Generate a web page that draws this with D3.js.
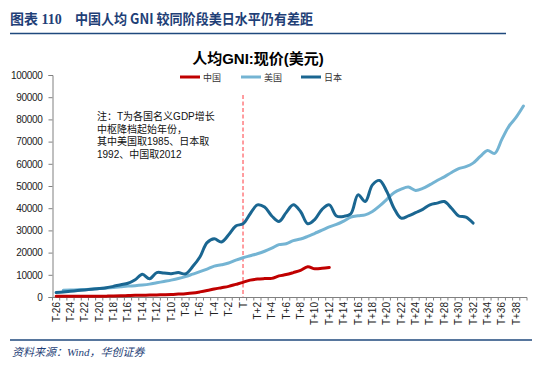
<!DOCTYPE html>
<html><head><meta charset="utf-8">
<script src="https://cdn.jsdelivr.net/npm/d3@7"></script>
<style>
body{margin:0;background:#fff;}
svg{display:block;}
</style></head>
<body>
<svg id="c" width="550" height="367"></svg>
<script>
// categories T-26 ... T+39
const categories = [];
for (let k = -26; k <= 39; k++) categories.push(k === 0 ? "T" : (k < 0 ? "T" + k : "T+" + k));
const yTicks = [0,10000,20000,30000,40000,50000,60000,70000,80000,90000,100000];

const seriesNames = ["中国","美国","日本"];
const china = [300,320,330,350,340,330,360,390,470,540,660,750,800,860,930,1000,1100,1300,1500,1800,2300,2900,3600,4200,4800,5700,6600,7600,8100,8300,8400,9500,10100,11000,12000,13600,12700,12900,13300];
const usa = [null,3000,3100,3300,3400,3600,3800,4100,4300,4600,4900,5100,5400,5800,6400,7000,7600,8300,9200,10300,11400,12600,13900,14500,15300,16600,17700,18600,19500,20600,22000,23600,24000,25400,26100,27300,28700,30100,31600,32700,34200,36000,36600,37000,38500,41000,44000,47000,48600,49500,48000,48900,50600,52500,54100,56100,57800,58700,60300,63300,66000,64700,71000,77000,81000,86000];
const japan = [2000,2300,2600,2900,3200,3500,3800,4200,4800,5500,6200,7800,10200,8200,11000,10800,10500,11000,10400,13700,18000,24500,26200,24800,28000,32000,33000,37500,41500,40500,36500,34000,38000,41500,38500,33000,35000,39500,41500,36500,36300,37500,46000,43000,50500,52500,47500,40000,35500,36500,38000,39500,41500,42300,43000,40000,36500,36000,33300];
const colors = ["#C00000","#74B4D3","#1A6691"];
const noteLines = ["注：T为各国名义GDP增长","中枢降档起始年份，","其中美国取1985、日本取","1992、中国取2012"];
const markCategory = "T";

const svg = d3.select("#c");
const cjk = "'Liberation Sans','Noto Sans CJK SC',sans-serif";

// header
svg.append("text").attr("x",10).attr("y",24).attr("fill","#1F3F77")
  .attr("font-family","'Liberation Serif','Noto Sans CJK SC',serif").attr("font-weight","bold").attr("font-size",14)
  .text("图表 110");
svg.append("text").attr("x",75).attr("y",24).attr("fill","#1F3F77")
  .attr("font-family","'Noto Sans CJK SC',sans-serif").attr("font-weight","bold").attr("font-size",14)
  .attr("textLength",238).attr("lengthAdjust","spacingAndGlyphs")
  .text("中国人均 GNI 较同阶段美日水平仍有差距");
svg.append("line").attr("x1",10).attr("x2",506).attr("y1",33.5).attr("y2",33.5).attr("stroke","#1F497D").attr("stroke-width",1.5);

// chart title
svg.append("text").attr("x",258).attr("y",64).attr("text-anchor","middle").attr("font-family",cjk)
  .attr("font-weight","bold").attr("font-size",15).attr("fill","#000").text("人均GNI:现价(美元)");

const x = d3.scaleBand().domain(categories).range([52.5,527]).padding(0);
const bw = x.bandwidth();
const cx = c => x(c) + bw/2;
const y = d3.scaleLinear().domain([0,100000]).range([297,75]);

// y axis
const ya = svg.append("g").attr("transform","translate(52.5,0)")
  .call(d3.axisLeft(y).tickValues(yTicks).tickSize(4).tickPadding(6).tickFormat(d=>String(d)));
ya.select(".domain").attr("stroke","#808080");
ya.selectAll(".tick line").attr("stroke","#808080");
ya.selectAll("text").attr("font-family","'Liberation Sans',Arial,sans-serif").attr("font-size",10).attr("fill","#222").attr("letter-spacing","-0.3");

// x axis
const xa = svg.append("g");
xa.append("line").attr("x1",x.range()[0]).attr("x2",x.range()[1]).attr("y1",297.5).attr("y2",297.5).attr("stroke","#808080");
const bounds = categories.map(c=>x(c)).concat([x.range()[1]]);
xa.selectAll("line.tk").data(bounds).enter().append("line").attr("class","tk")
  .attr("x1",d=>d).attr("x2",d=>d).attr("y1",297.5).attr("y2",300.5).attr("stroke","#808080");
xa.selectAll("text").data(categories.filter((c,i)=>i%2===0)).enter().append("text")
  .attr("transform",c=>`translate(${cx(c)+3.5},302) rotate(-90)`)
  .attr("text-anchor","end").attr("font-family","'Liberation Sans',Arial,sans-serif").attr("font-size",10).attr("fill","#222")
  .text(c=>c);

// dashed marker
svg.append("line").attr("x1",cx(markCategory)).attr("x2",cx(markCategory)).attr("y1",95).attr("y2",297)
  .attr("stroke","#FF7C80").attr("stroke-width",1.5).attr("stroke-dasharray","4,2.5");

// lines
const data = [china, usa, japan];
const line = d3.line().defined(d=>d!=null).x((d,i)=>cx(categories[i])).y(d=>y(d)).curve(d3.curveCatmullRom.alpha(0.5));
data.forEach((s,k)=>{
  svg.append("path").datum(s).attr("d",line).attr("fill","none").attr("stroke",colors[k]).attr("stroke-width",3)
    .attr("stroke-linejoin","round").attr("stroke-linecap","round");
});

// legend
const legX = [180,241,301];
seriesNames.forEach((n,k)=>{
  svg.append("line").attr("x1",legX[k]).attr("x2",legX[k]+20).attr("y1",77).attr("y2",77).attr("stroke",colors[k]).attr("stroke-width",3);
  svg.append("text").attr("x",legX[k]+23).attr("y",80.5).attr("font-family","'Noto Sans CJK SC',sans-serif").attr("font-size",9).attr("fill","#333").text(n);
});

// note
noteLines.forEach((t,i)=>{
  svg.append("text").attr("x",97).attr("y",120+i*12.5).attr("font-family",cjk).attr("font-size",10).attr("fill","#111").text(t);
});

// footer
svg.append("line").attr("x1",10).attr("x2",532).attr("y1",340).attr("y2",340).attr("stroke","#1F497D").attr("stroke-width",1.5);
svg.append("text").attr("x",12).attr("y",356).attr("font-family","'Liberation Serif','Noto Sans CJK SC',serif").attr("font-style","italic")
  .attr("font-size",11).attr("fill","#1F3F77").text("资料来源：Wind，华创证券");
</script>
</body></html>
